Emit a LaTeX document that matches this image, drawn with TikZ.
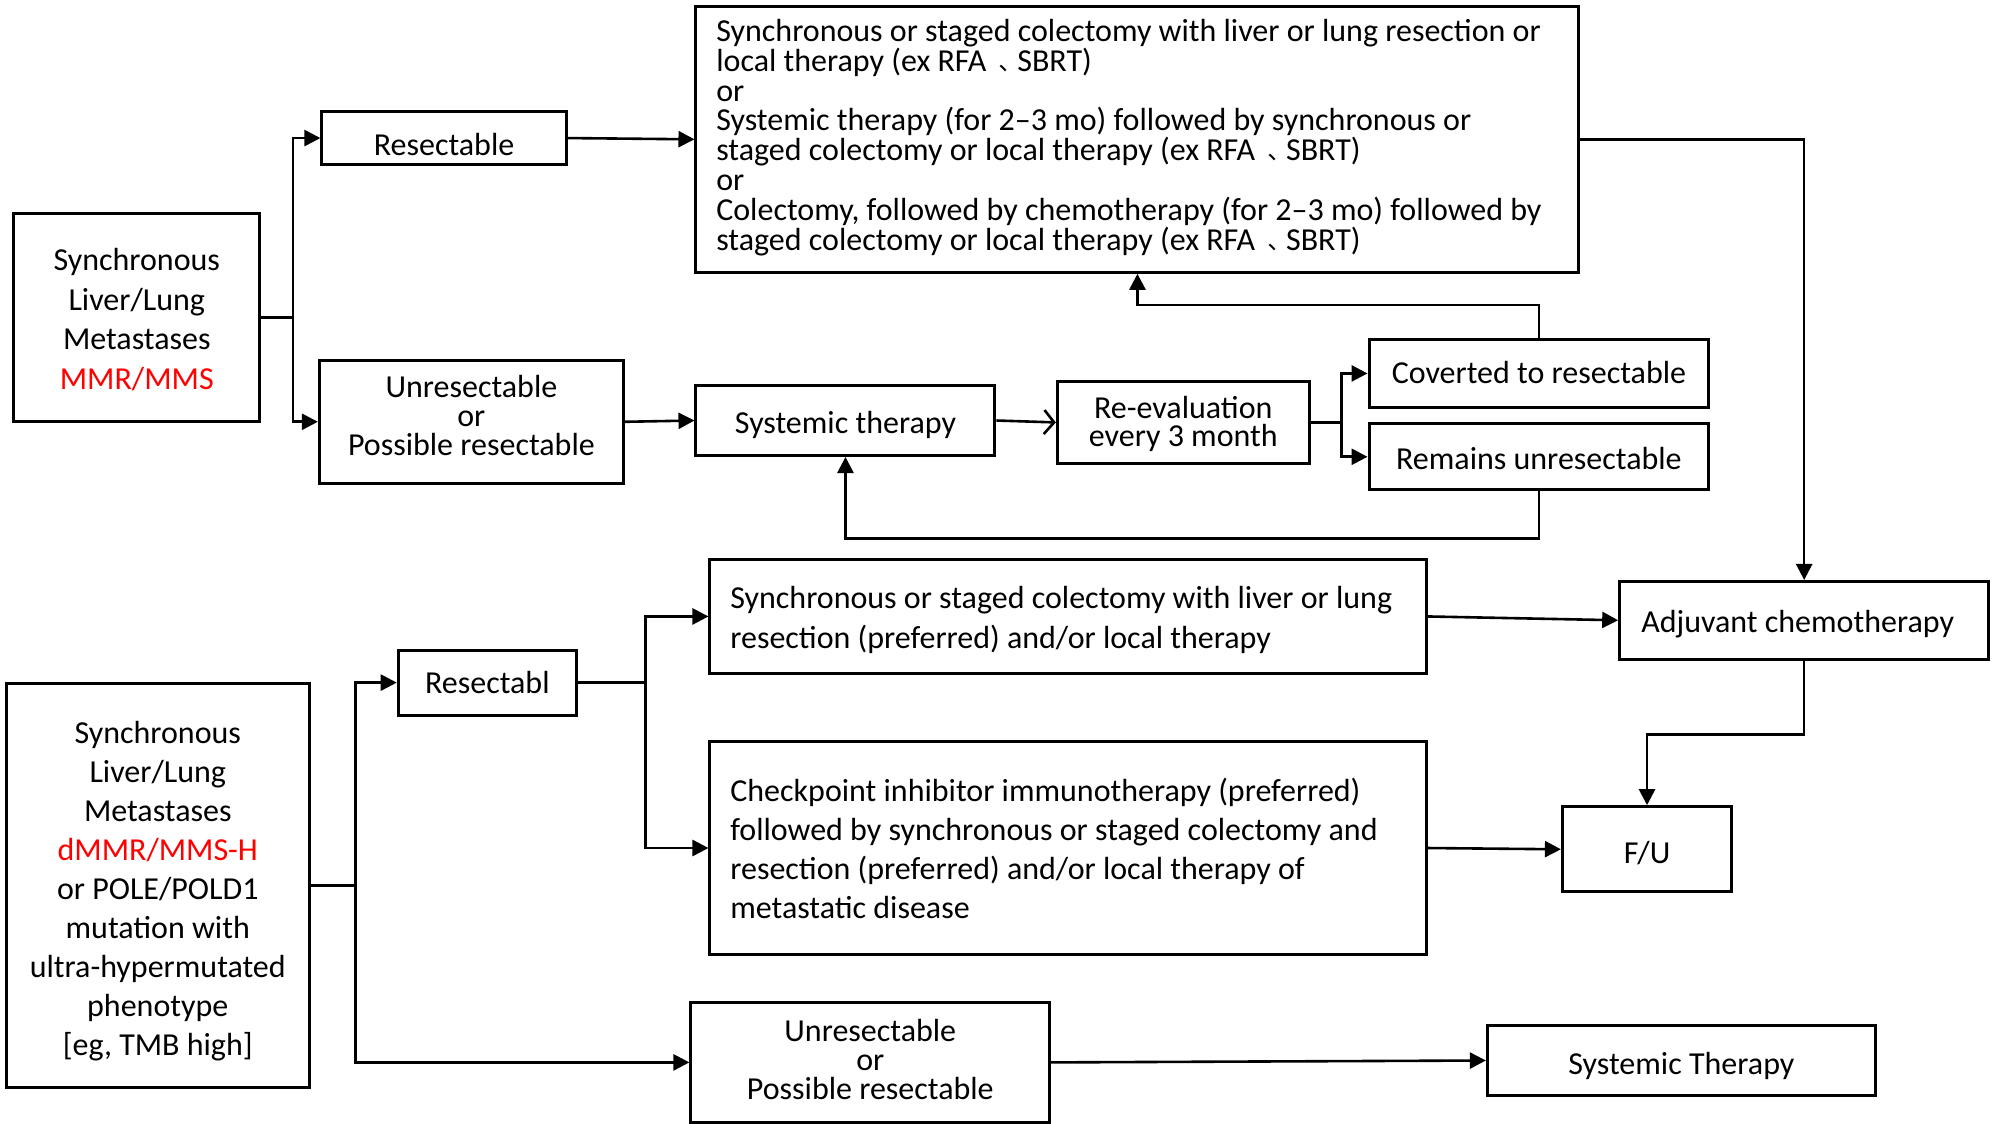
\documentclass[tikz,border=0pt]{standalone}
\usepackage{fontspec}
\setmainfont{Carlito}
\newfontfamily\cjk{Noto Sans CJK TC}
\usetikzlibrary{arrows.meta}
\newdimen\du \du=0.6362pt
\definecolor{mmrred}{RGB}{255,0,0}
% ideographic comma between the local-therapy options
\newcommand{\dun}{\kern2.6pt\makebox[12.9pt][l]{\raisebox{-3pt}{\cjk\fontsize{12}{12}\selectfont 、}}}
% body font with a fixed line pitch
\newcommand{\fs}[1]{\fontsize{16}{#1}\selectfont\lineskiplimit=-40pt\lineskip=0pt}
\begin{document}
\begin{tikzpicture}[x=0.6362pt, y=-0.6362pt,
  box/.style={draw, line width=1.5pt, inner sep=0pt, align=flush center, font=\fs{15}},
  lbox/.style={draw, line width=1.5pt, inner ysep=0pt, align=flush left, font=\fs{15}},
  arr/.style={line width=1.3pt, -{Triangle[length=8pt, width=8pt]}},
  openarr/.style={line width=1.3pt, -{Straight Barb[length=5pt, width=12pt, line width=1.3pt]}}]
\useasboundingbox (0,0) rectangle (1568,883);

% upper branch: proficient MMR
\node[box, font=\fs{19.75}, text width=193\du, minimum height=163\du,
  text height=0pt, text depth=46.8pt] (A) at (107.5,249.5)
  {Synchronous\\Liver/Lung\\Metastases\\\textcolor{mmrred}{MMR/MMS}};
\node[box, text width=192\du, minimum height=41\du, text height=17.3pt, text depth=0pt]
  (Res) at (349,108.5) {Resectable};
\node[box, font=\fs{14.6}, text width=239\du, minimum height=97\du, text height=0pt, text depth=24.6pt]
  (U1) at (370.5,331.5) {Unresectable\\or\\Possible resectable};
\node[lbox, font=\fs{14.93}, inner xsep=16\du, text width=662\du, minimum height=209\du,
  text height=0pt, text depth=98pt] (B) at (894,109.5)
  {Synchronous or staged colectomy with liver or lung resection or\\
   local therapy (ex RFA\dun SBRT)\\
   or\\
   Systemic therapy (for 2--3 mo) followed by synchronous or\\
   staged colectomy or local therapy (ex RFA\dun SBRT)\\
   or\\
   Colectomy, followed by chemotherapy (for 2--3 mo) followed by\\
   staged colectomy or local therapy (ex RFA\dun SBRT)};
\node[box, text width=235\du, minimum height=55\du, text height=13pt, text depth=0pt]
  (ST) at (664.5,330.5) {Systemic therapy};
\node[box, font=\fs{14.2}, text width=198\du, minimum height=64\du, text height=0pt, text depth=3.9pt]
  (R) at (930,332) {Re-evaluation\\every 3 month};
\node[box, text width=267\du, minimum height=53\du, text height=10.3pt, text depth=0pt]
  (C) at (1209.5,293.5) {Coverted to resectable};
\node[box, text width=267\du, minimum height=52\du, text height=13pt, text depth=0pt]
  (M) at (1209.5,359) {Remains unresectable};
\node[lbox, inner xsep=17\du, text width=256\du, minimum height=61\du, text height=12.4pt, text depth=0pt]
  (AC) at (1418,487.5) {Adjuvant chemotherapy};

% lower branch: deficient MMR
\node[box, font=\fs{19.5}, text width=238\du, minimum height=318\du, text height=0pt, text depth=141.9pt]
  (D) at (124,696)
  {Synchronous\\Liver/Lung\\Metastases\\\textcolor{mmrred}{dMMR/MMS-H}\\or POLE/POLD1\\mutation with\\ultra-hypermutated\\phenotype\\{[eg, TMB high]}};
\node[box, text width=140\du, minimum height=51\du, text height=10.7pt, text depth=0pt]
  (Rb) at (383,536.5) {Resectabl};
\node[lbox, font=\fs{19.7}, inner xsep=16\du, text width=531\du, minimum height=89\du,
  text height=0pt, text depth=7.6pt] (S1) at (839.5,484.5)
  {Synchronous or staged colectomy with liver or lung\\
   resection (preferred) and/or local therapy};
\node[lbox, font=\fs{19.4}, inner xsep=16\du, text width=531\du, minimum height=167\du,
  text height=0pt, text depth=46.3pt] (S2) at (839.5,666.5)
  {Checkpoint inhibitor immunotherapy (preferred)\\
   followed by synchronous or staged colectomy and\\
   resection (preferred) and/or local therapy of\\
   metastatic disease};
\node[box, text width=133\du, minimum height=67\du, text height=14.3pt, text depth=0pt]
  (FU) at (1294.5,667.5) {F/U};
\node[box, font=\fs{14.6}, text width=282\du, minimum height=94\du, text height=0pt, text depth=21.3pt]
  (U2) at (684,835) {Unresectable\\or\\Possible resectable};
\node[box, text width=305\du, minimum height=55\du, text height=13.5pt, text depth=0pt]
  (ST2) at (1321.5,833.5) {Systemic Therapy};

% upper connectors
\draw[arr] (A.east) -- ++(25,0) |- (Res.west);
\draw[arr] (A.east) -- ++(25,0) |- (U1.west);
\draw[arr] (Res.east) -- (B.west);
\draw[arr] (U1.east) -- (ST.west);
\draw[openarr] (ST.east) -- (R.west);
\draw[arr] (R.east) -- ++(24,0) |- (C.west);
\draw[arr] (R.east) -- ++(24,0) |- (M.west);
\draw[arr] (C.north) -- ++(0,-26) -| (B.south);
\draw[arr] (M.south) -- ++(0,37) -| (ST.south);
\draw[arr] (B.east) -| (AC.north);

% lower connectors
\draw[arr] (D.east) -- ++(35,0) |- (Rb.west);
\draw[arr] (D.east) -- ++(35,0) |- (U2.west);
\draw[arr] (Rb.east) -- ++(53,0) |- (S1.west);
\draw[arr] (Rb.east) -- ++(53,0) |- (S2.west);
\draw[arr] (S1.east) -- (AC.west);
\draw[arr] (S2.east) -- (FU.west);
\draw[arr] (AC.south) -- ++(0,58) -| (FU.north);
\draw[arr] (U2.east) -- (ST2.west);
\end{tikzpicture}
\end{document}
